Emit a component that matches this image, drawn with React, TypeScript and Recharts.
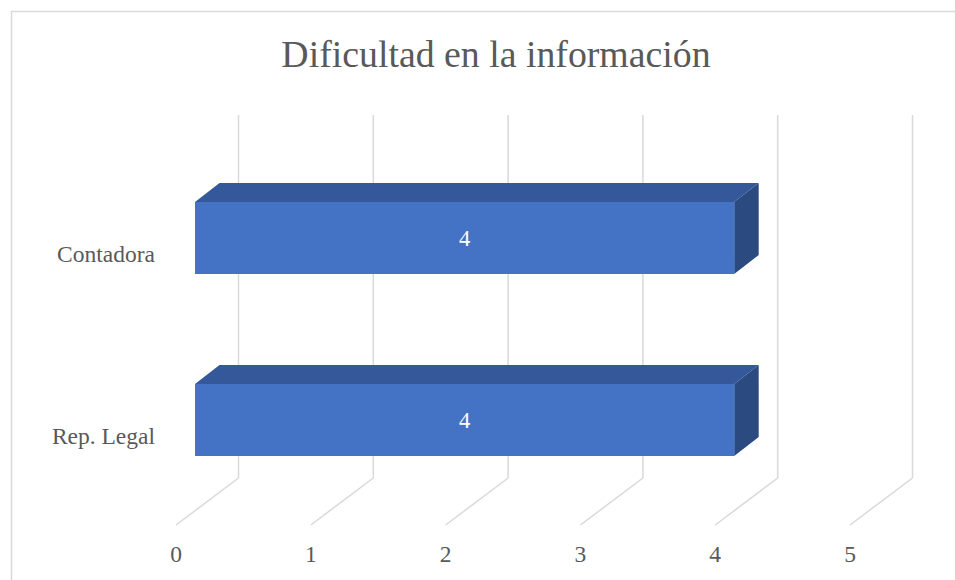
import React from 'react';
import { BarChart, Bar, XAxis, YAxis, CartesianGrid, LabelList } from 'recharts';

const categories = ['Contadora', 'Rep. Legal'];
const values = [4, 4];
const xTicks = [0, 1, 2, 3, 4, 5];
const title = 'Dificultad en la información';

const data = categories.map((name, i) => ({ name, value: values[i] }));

const FONT = '"Liberation Serif", "Times New Roman", serif';
const TEXT = '#595959';
const GRID = '#D9D9D9';
const FRONT = '#4472C4';
const TOP = '#34589A';
const SIDE = '#2B4A80';
const DX = 24.5;
const DY = -19;

const Bar3D = (props: any) => {
  const { x, y, width, height } = props;
  if (width == null || height == null) return null;
  const top = `M${x},${y} L${x + DX},${y + DY} L${x + width + DX},${y + DY} L${x + width},${y} Z`;
  const side = `M${x + width},${y} L${x + width + DX},${y + DY} L${x + width + DX},${y + height + DY} L${x + width},${y + height} Z`;
  return (
    <g>
      <path d={top} fill={TOP} />
      <path d={side} fill={SIDE} />
      <rect x={x} y={y} width={width} height={height} fill={FRONT} />
    </g>
  );
};

const GridLine = (p: any) => (
  <line
    key={p.key}
    x1={p.x1 + 43.5}
    y1={p.y1 - 32}
    x2={p.x2 + 43.5}
    y2={p.y2 - 33}
    stroke={GRID}
    strokeWidth={1.5}
  />
);

const XTick = (p: any) => {
  const { x, y, payload } = p;
  return (
    <g>
      <line x1={x + 43.5} y1={y - 33} x2={x - 19} y2={y + 14} stroke={GRID} strokeWidth={1.5} />
      <text x={x - 19} y={y + 51} textAnchor="middle" fontFamily={FONT} fontSize={23.5} fill={TEXT}>
        {payload.value}
      </text>
    </g>
  );
};

const YTick = (p: any) => {
  const { x, y, payload } = p;
  return (
    <text x={x} y={y + 24} textAnchor="end" fontFamily={FONT} fontSize={23.5} fill={TEXT}>
      {payload.value}
    </text>
  );
};

export default function App() {
  return (
    <div style={{ position: 'absolute', left: 0, top: 0, width: 955, height: 580, background: '#fff', overflow: 'hidden' }}>
      <svg width={955} height={580} style={{ position: 'absolute', left: 0, top: 0 }}>
        <rect x={11.5} y={11.5} width={1000} height={1000} fill="#fff" stroke={GRID} strokeWidth={1.5} />
        <text x={496} y={67} textAnchor="middle" fontFamily={FONT} fontSize={37.8} fill={TEXT}>
          {title}
        </text>
      </svg>
      <div style={{ position: 'absolute', left: 0, top: 0 }}>
        <BarChart
          width={955}
          height={580}
          data={data}
          layout="vertical"
          margin={{ top: 147, right: 86, bottom: 0, left: 0 }}
          barSize={72}
        >
          <CartesianGrid horizontal={false} vertical={GridLine} />
          <XAxis
            type="number"
            domain={[0, 5]}
            ticks={xTicks}
            interval={0}
            height={69}
            axisLine={false}
            tickLine={false}
            tickSize={0}
            tickMargin={0}
            tick={XTick}
          />
          <YAxis
            type="category"
            dataKey="name"
            width={195}
            axisLine={false}
            tickLine={false}
            tickSize={0}
            tickMargin={40}
            tick={YTick}
          />
          <Bar dataKey="value" shape={Bar3D} isAnimationActive={false}>
            <LabelList dataKey="value" position="center" fill="#fff" fontFamily={FONT} fontSize={22.5} />
          </Bar>
        </BarChart>
      </div>
    </div>
  );
}
